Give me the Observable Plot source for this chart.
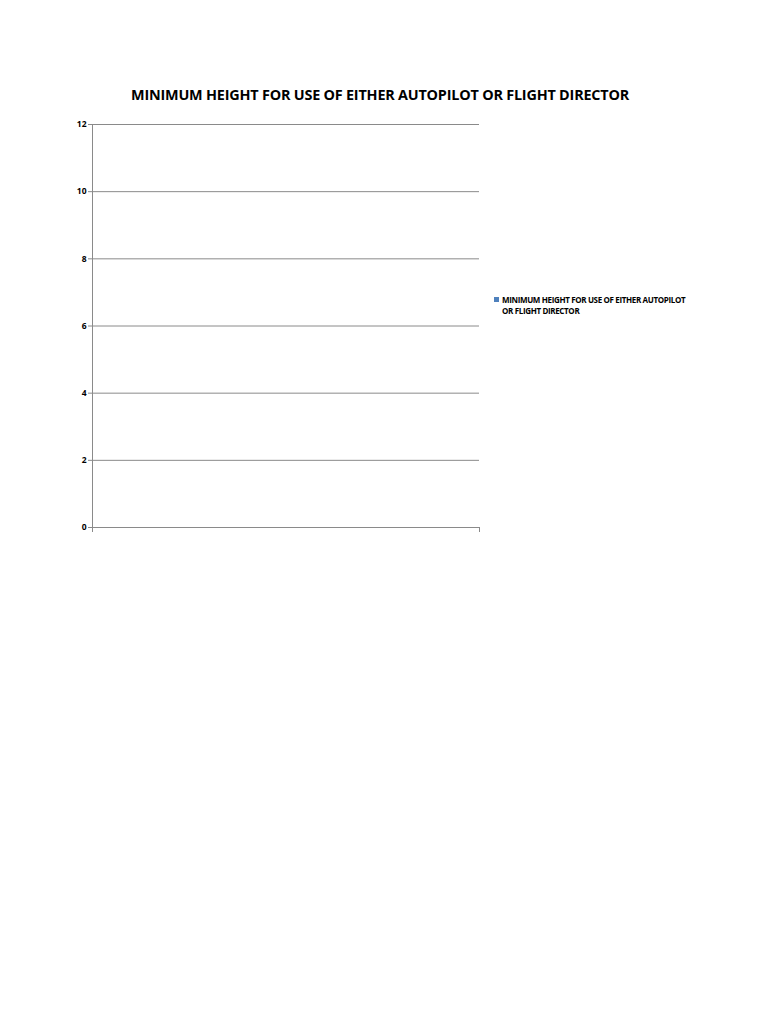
<!DOCTYPE html>
<html>
<head>
<meta charset="utf-8">
<script src="https://cdn.jsdelivr.net/npm/d3@7"></script>
<script src="https://cdn.jsdelivr.net/npm/@observablehq/plot@0.6"></script>
<style>
  html, body { margin: 0; padding: 0; background: #fff; }
  #page { position: relative; width: 768px; height: 1024px; font-family: "Open Sans", sans-serif; }
  #title { position: absolute; left: 0; top: 85px; width: 760px; text-align: center; font-weight: bold; font-size: 14.4px; color: #000; letter-spacing: -0.2px; }
  #chart { position: absolute; left: 0; top: 110px; }
  #legend { position: absolute; left: 494px; top: 294px; font-family: "Open Sans", sans-serif; font-weight: bold; font-size: 8px; line-height: 11px; color: #000; letter-spacing: -0.35px; }
  #legend .sw { display: inline-block; width: 5px; height: 5px; background: #4F81BD; margin-right: 3px; vertical-align: 1px; }
  #legend .l2 { padding-left: 8px; }
</style>
</head>
<body>
<div id="page">
  <div id="title">MINIMUM HEIGHT FOR USE OF EITHER AUTOPILOT OR FLIGHT DIRECTOR</div>
  <div id="chart"></div>
  <div id="legend"><div><span class="sw"></span>MINIMUM HEIGHT FOR USE OF EITHER AUTOPILOT</div><div class="l2">OR FLIGHT DIRECTOR</div></div>
</div>
<script>
const seriesName = "MINIMUM HEIGHT FOR USE OF EITHER AUTOPILOT OR FLIGHT DIRECTOR";
const categories = [""];
const seriesValues = []; // chart holds no values
const yTicks = [0, 2, 4, 6, 8, 10, 12];
const xEdges = [0, categories.length];

const data = seriesValues.map((v, i) => ({index: i, value: v}));

const plot = Plot.plot({
  width: 768,
  height: 440,
  marginLeft: 92,
  marginRight: 289,
  marginTop: 14,
  marginBottom: 23,
  x: {type: "linear", domain: xEdges, axis: null, label: null},
  y: {type: "linear", domain: [0, 12], ticks: yTicks, axis: null, label: null},
  marks: [
    Plot.gridY(yTicks, {stroke: "#8a8a8a", strokeOpacity: 1, strokeWidth: 1}),
    Plot.axisY(yTicks, {tickSize: 4, tickPadding: 2, stroke: "#8a8a8a", fontSize: 8.5, fontWeight: "bold", fill: "#000", tickFormat: d => d, fontFamily: "Open Sans", label: null}),
    Plot.axisX(xEdges, {tickSize: 5, tickFormat: () => "", stroke: "#8a8a8a", anchor: "bottom", label: null}),
    Plot.ruleX([xEdges[0]], {y1: 0, y2: 12, stroke: "#8a8a8a"}),
    Plot.rectY(data, {x1: "index", x2: d => d.index + 1, y: "value", fill: "#4F81BD", insetLeft: 80, insetRight: 80})
  ]
});
document.getElementById("chart").appendChild(plot);
</script>
</body>
</html>
